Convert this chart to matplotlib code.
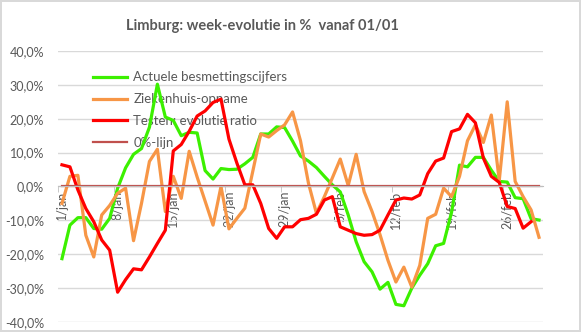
import matplotlib.pyplot as plt
from matplotlib.ticker import FixedLocator, FuncFormatter
import numpy as np

# ------------- data, one value per day from 1/jan
besmettingen = [-21.3, -11.4, -9.2, -9.2, -12.4, -12.6, -9.4, -0.5, 5.5, 9.5,
                11.2, 17.5, 30.2, 20.5, 19.5, 15.0, 16.0, 15.8, 4.7, 2.2,
                5.3, 5.0, 5.1, 6.7, 8.6, 15.5, 15.5, 17.6, 17.4, 13.4,
                9.0, 7.5, 5.6, 3.0, 0.5, -1.6, -8.4, -16.3, -22.2, -25.2,
                -30.3, -28.3, -34.8, -35.2, -30.0, -26.2, -22.8, -17.5, -16.8, -7.6,
                6.3, 5.8, 8.6, 8.6, 4.8, 1.5, 1.3, -3.3, -3.6, -9.5,
                -9.9]
ziekenhuis = [-5.0, 3.0, 3.3, -14.4, -20.8, -8.4, -5.6, -2.0, -0.5, -16.0,
              -5.0, 7.4, 11.0, -7.4, 3.0, -3.5, 10.4, 2.8, -4.3, -11.4,
              0.0, -12.5, -9.4, -6.4, 4.5, 15.5, 14.6, 16.5, 18.2, 22.0,
              13.5, 1.0, -7.9, -3.0, 2.5, 8.1, 0.3, 9.5, -1.5, -7.4,
              -14.2, -21.8, -28.2, -23.8, -29.7, -23.3, -9.4, -8.2, -0.5, -3.0,
              3.0, 13.5, 18.2, 13.0, 21.1, 1.8, 25.0, 1.5, -3.0, -6.9,
              -15.0]
testen = [6.4, 5.8, -1.0, -6.5, -10.4, -15.8, -18.8, -31.2, -27.5, -24.3,
          -24.6, -20.8, -16.8, -12.9, 10.5, 12.4, 16.3, 20.8, 22.3, 24.8,
          25.8, 14.0, 6.9, 0.5, 0.5, -5.0, -12.4, -15.3, -11.9, -11.9,
          -9.8, -9.4, -8.2, -4.0, -3.0, -11.9, -12.9, -13.9, -14.4, -14.2,
          -12.9, -8.4, -4.0, -3.4, -3.7, -2.5, 3.8, 7.5, 8.4, 16.2,
          17.0, 21.3, 18.8, 8.4, 3.0, 1.2, -5.9, -6.5, -12.3, -10.4]
nul_lijn = [0.0] * 61

tick_labels = ["1/jan", "8/jan", "15/jan", "22/jan", "29/jan",
               "5/feb", "12/feb", "19/feb", "26/feb"]

grijs = "#595959"
plt.rcParams['font.family'] = ['Lato', 'DejaVu Sans']

fig = plt.figure(figsize=(5.81, 3.32), dpi=100)
fig.patch.set_edgecolor("#D9D9D9")
fig.patch.set_linewidth(1.5)
ax = fig.add_axes([58 / 581, 1 - 322 / 332, 485 / 581, 271 / 332])

# spine first: set_position resets the ticks
for s in ["top", "right", "left"]:
    ax.spines[s].set_visible(False)
ax.spines["bottom"].set_position(("data", 0))
ax.spines["bottom"].set_color("#BFBFBF")

ax.plot(np.arange(len(besmettingen)), besmettingen, color="#3CF000", lw=2.3,
        label="Actuele besmettingscijfers")
ax.plot(np.arange(len(ziekenhuis)), ziekenhuis, color="#F79646", lw=2.3,
        label="Ziekenhuis-opname")
ax.plot(np.arange(len(testen)), testen, color="#FF0000", lw=2.3,
        label="Testen: evolutie ratio")
ax.plot(np.arange(len(nul_lijn)), nul_lijn, color="#C0504D", lw=1.6,
        label="0%-lijn")

ax.set_xlim(-0.5, 60.5)
ax.set_ylim(-40, 40)
ax.set_yticks(np.arange(-40, 41, 10))
ax.yaxis.set_major_formatter(FuncFormatter(lambda v, p: f"{v:.1f}%".replace(".", ",")))
ax.grid(axis="y", color="#D9D9D9", lw=1)
ax.set_axisbelow(True)

ax.set_xticks(np.arange(0, 61, 7))
ax.set_xticklabels(tick_labels, rotation=90, ha="center", va="top")
ax.xaxis.set_minor_locator(FixedLocator(np.arange(-0.5, 61, 7)))
ax.tick_params(axis="x", which="major", length=0, pad=3, labelsize=9, labelcolor=grijs)
ax.tick_params(axis="x", which="minor", length=4, color="#BFBFBF", direction="out")
ax.tick_params(axis="y", length=0, pad=10, labelsize=9, labelcolor=grijs)

leg = ax.legend(loc="upper left", bbox_to_anchor=(0.072, 0.925), frameon=False,
                fontsize=9.5, labelcolor=grijs, handlelength=2.6, handletextpad=0.45,
                labelspacing=0.75, borderpad=0, borderaxespad=0)
leg.set_zorder(1)

fig.text(262 / 581, 1 - 26 / 332, "Limburg: week-evolutie in %  vanaf 01/01",
         ha="center", va="center", fontsize=10.5, fontweight="bold", color=grijs)

fig.savefig("out.png", dpi=100, edgecolor=fig.get_edgecolor())
